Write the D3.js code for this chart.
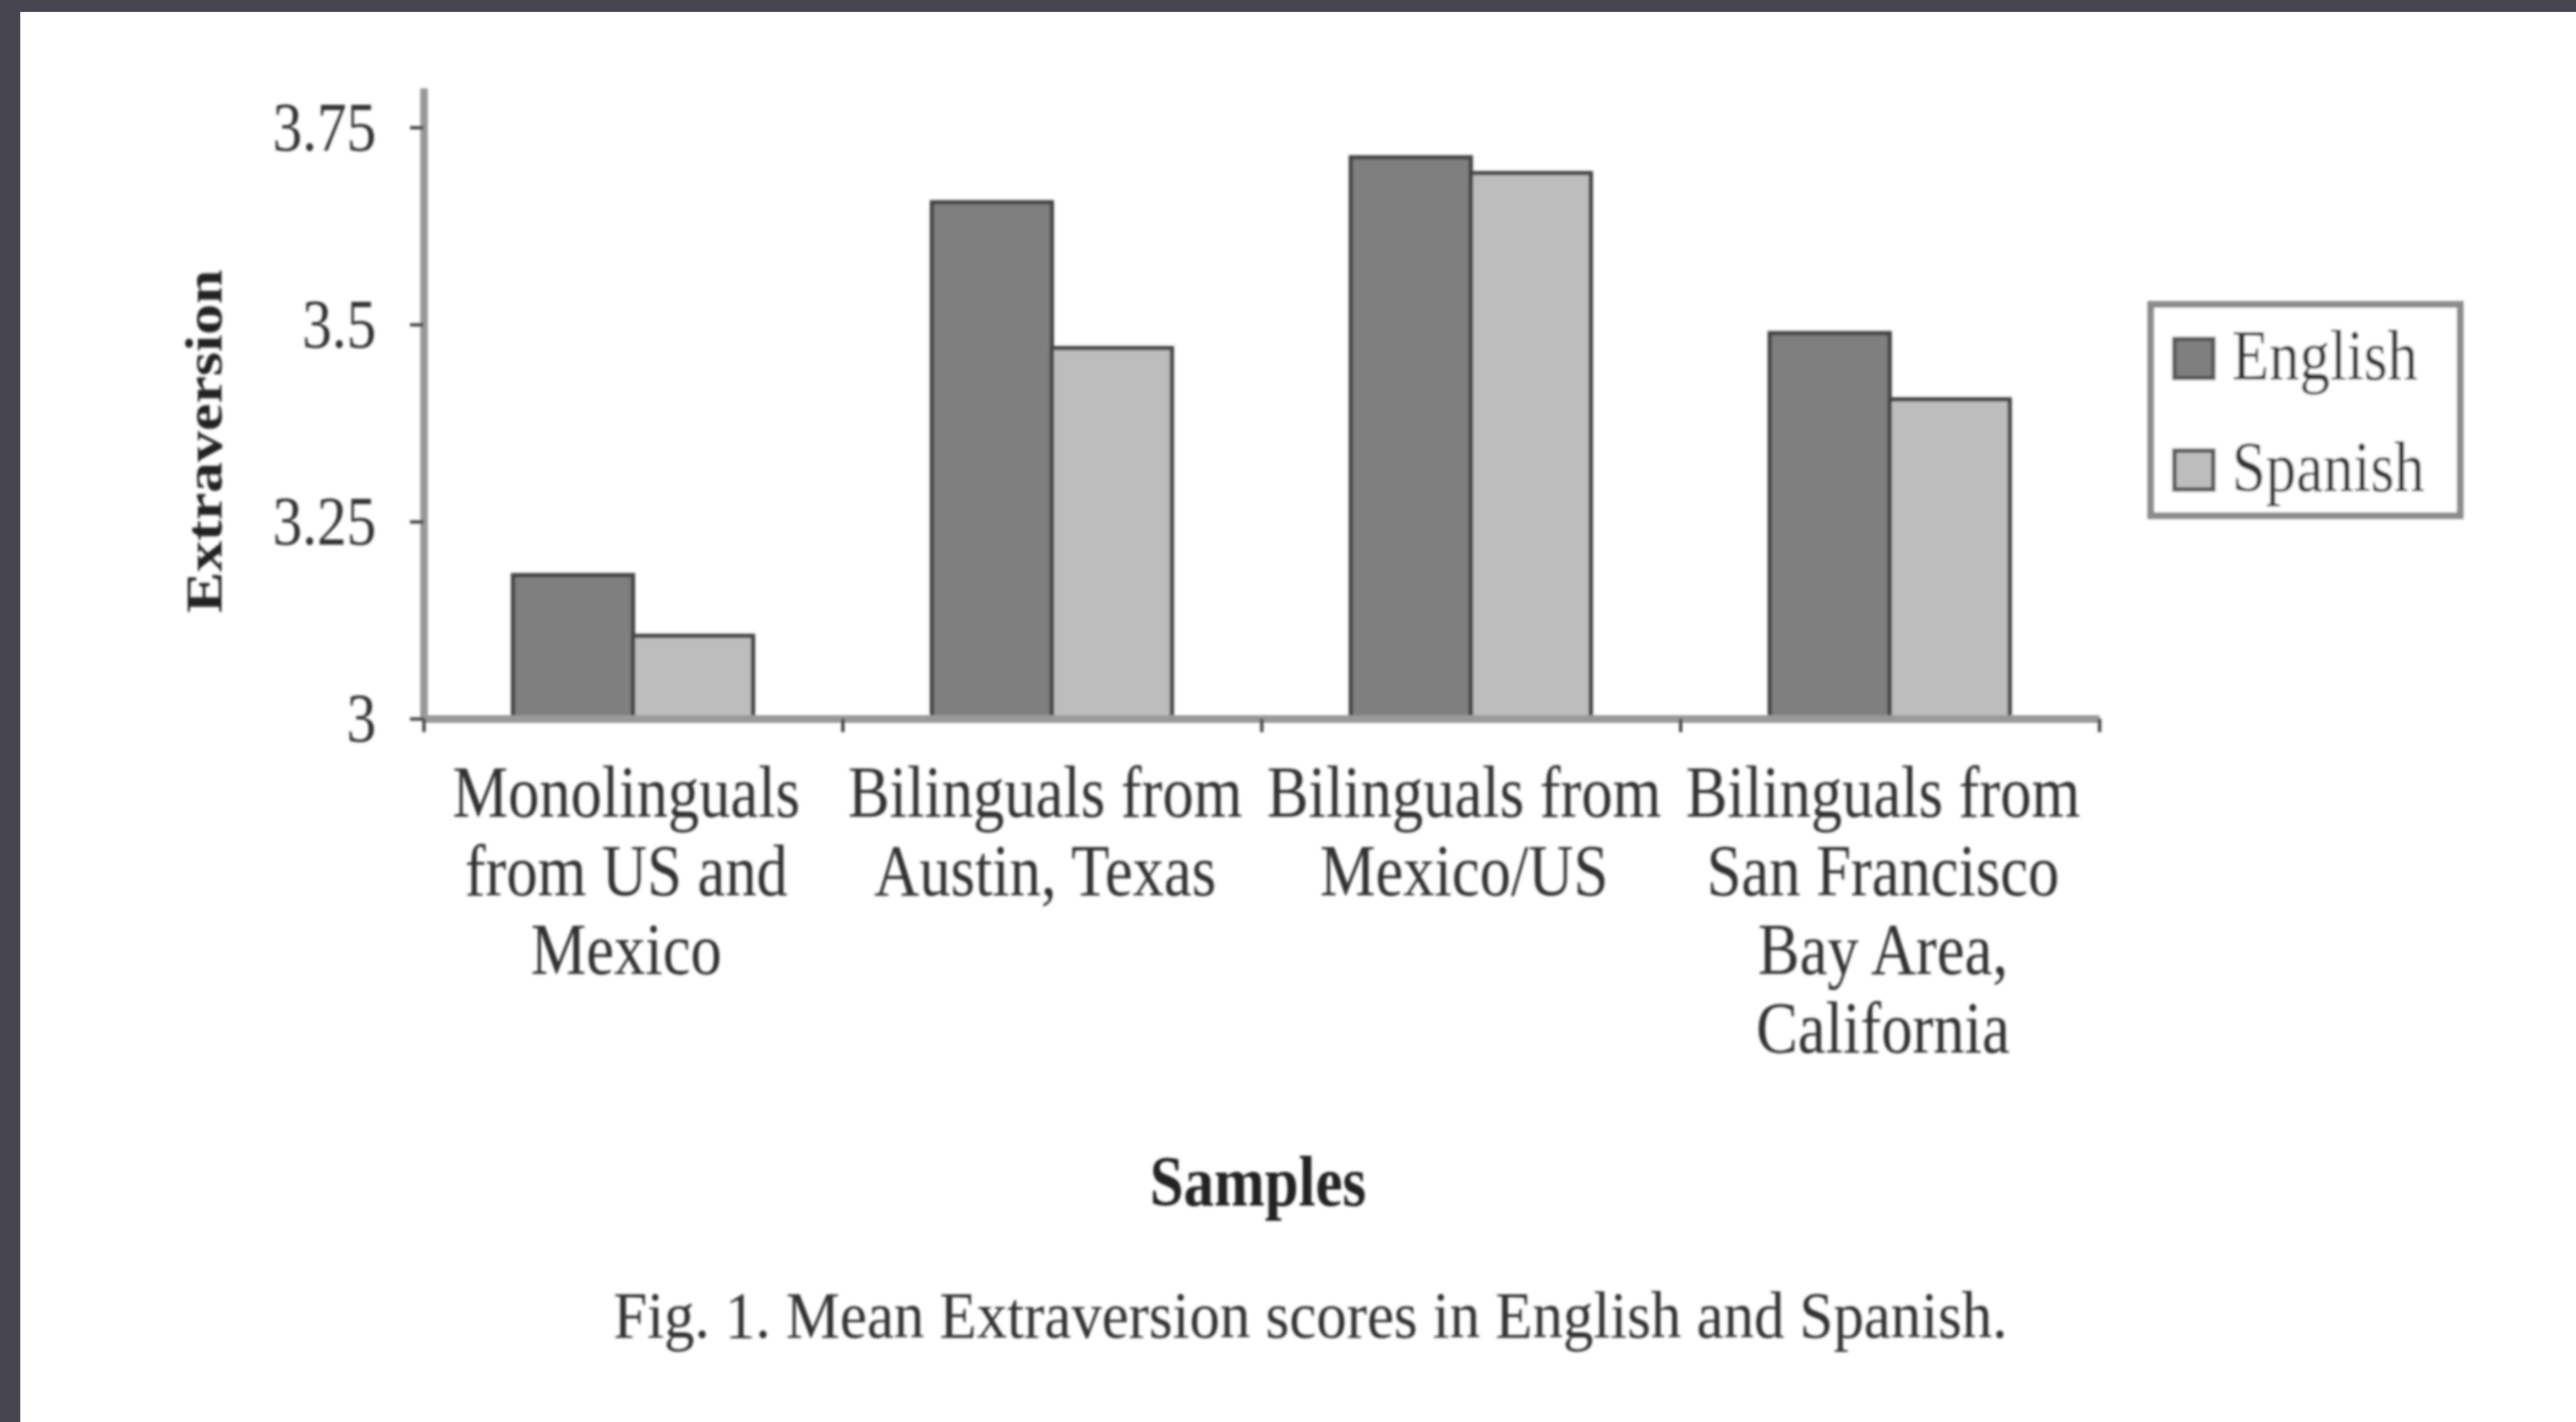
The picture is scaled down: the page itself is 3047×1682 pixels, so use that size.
<!DOCTYPE html>
<html>
<head>
<meta charset="utf-8">
<script src="https://cdn.jsdelivr.net/npm/d3@7"></script>
<style>
  html, body { margin: 0; padding: 0; background: #47454f; }
  svg { display: block; }
</style>
</head>
<body>
<svg id="chart" width="3047" height="1682"></svg>
<script>
// ---- data ----
const categories = ["Monolinguals from US and Mexico", "Bilinguals from Austin, Texas", "Bilinguals from Mexico/US", "Bilinguals from San Francisco Bay Area, California"];
const categoryLines = [["Monolinguals", "from US and", "Mexico"], ["Bilinguals from", "Austin, Texas"], ["Bilinguals from", "Mexico/US"], ["Bilinguals from", "San Francisco", "Bay Area,", "California"]];
const seriesNames = ["English", "Spanish"];
const englishValues = [3.182, 3.655, 3.712, 3.489];
const spanishValues = [3.105, 3.47, 3.692, 3.405];
const yTickValues = [3, 3.25, 3.5, 3.75];
const yTickLabels = ["3", "3.25", "3.5", "3.75"];
const yAxisTitle = "Extraversion";
const xAxisTitle = "Samples";
const caption = "Fig. 1. Mean Extraversion scores in English and Spanish.";

const seriesColors = { English: "#7f7f7f", Spanish: "#bdbdbd" };
const SY = 1.18; // vertical stretch of the scanned text
const FONT = "'Liberation Serif', 'Times New Roman', serif";

const svg = d3.select("#chart");
svg.append("rect").attr("x", 24).attr("y", 14).attr("width", 3047 - 24).attr("height", 1682 - 14).attr("fill", "#ffffff");

const defs = svg.append("defs");
defs.append("filter").attr("id", "soft").attr("x", "-5%").attr("y", "-5%").attr("width", "110%").attr("height", "110%")
  .append("feGaussianBlur").attr("stdDeviation", 1.6);

const g = svg.append("g").attr("filter", "url(#soft)");

const plotLeft = 501, plotRight = 2483, plotBottom = 850, plotTop = 104;

const x = d3.scaleBand().domain(categories).range([plotLeft, plotRight]).paddingInner(0).paddingOuter(0);
const x1 = d3.scaleBand().domain(seriesNames).range([0, x.bandwidth()]).paddingInner(0).paddingOuter(0.745);
const y = d3.scaleLinear().domain([3, 3.8]).range([plotBottom, plotTop]);
const xb = d3.scaleLinear().domain([0, categories.length]).range([plotLeft, plotRight]);

const rows = categories.map((c, i) => ({ cat: c, values: [
  { name: "English", value: englishValues[i] },
  { name: "Spanish", value: spanishValues[i] }
]}));

const groups = g.selectAll("g.cat").data(rows).join("g").attr("class", "cat")
  .attr("transform", d => `translate(${x(d.cat)},0)`);
groups.selectAll("rect").data(d => d.values).join("rect")
  .attr("x", d => x1(d.name))
  .attr("y", d => y(d.value))
  .attr("width", x1.bandwidth())
  .attr("height", d => y(3) - y(d.value))
  .attr("fill", d => seriesColors[d.name])
  .attr("stroke", "#444")
  .attr("stroke-width", 5);

// y axis
const yAxis = g.append("g").attr("transform", `translate(${plotLeft},0)`)
  .call(d3.axisLeft(y).tickValues(yTickValues).tickFormat((d, i) => yTickLabels[i]).tickSize(16).tickSizeOuter(0).tickPadding(40));
yAxis.select(".domain").attr("stroke", "#999").attr("stroke-width", 9);
yAxis.selectAll(".tick line").attr("stroke", "#444").attr("stroke-width", 4);
yAxis.selectAll(".tick text").attr("font-family", FONT).attr("font-size", 70).attr("fill", "#333")
  .attr("transform", `scale(1,${SY})`);

// x axis (category boundaries)
const xAxis = g.append("g").attr("transform", `translate(0,${plotBottom})`)
  .call(d3.axisBottom(xb).tickValues(d3.range(categories.length + 1)).tickFormat("").tickSize(16).tickSizeOuter(0));
xAxis.select(".domain").attr("stroke", "#999").attr("stroke-width", 9);
xAxis.selectAll(".tick line").attr("stroke", "#444").attr("stroke-width", 4);

// category labels
const lineBase = 966, lineStep = 93;
categoryLines.forEach((lines, i) => {
  const cx = x(categories[i]) + x.bandwidth() / 2 - 8;
  lines.forEach((t, j) => {
    g.append("text")
      .attr("transform", `translate(${cx},${lineBase + j * lineStep}) scale(1,${SY})`)
      .attr("text-anchor", "middle")
      .attr("font-family", FONT).attr("font-size", 74).attr("fill", "#333")
      .text(t);
  });
});

// y axis title
g.append("text")
  .attr("transform", `translate(262,522) rotate(-90) scale(${SY},1)`)
  .attr("text-anchor", "middle")
  .attr("font-family", FONT).attr("font-weight", "bold").attr("font-size", 62).attr("fill", "#222")
  .text(yAxisTitle);

// x axis title
g.append("text")
  .attr("transform", `translate(1488,1426) scale(1,${SY})`)
  .attr("text-anchor", "middle")
  .attr("font-family", FONT).attr("font-weight", "bold").attr("font-size", 72).attr("fill", "#222")
  .text(xAxisTitle);

// caption
g.append("text")
  .attr("transform", `translate(1550,1582) scale(1,${SY})`)
  .attr("text-anchor", "middle")
  .attr("font-family", FONT).attr("font-size", 66).attr("fill", "#333")
  .attr("textLength", 1649).attr("lengthAdjust", "spacingAndGlyphs")
  .text(caption);

// legend
const legend = g.append("g");
legend.append("rect").attr("x", 2544).attr("y", 360).attr("width", 366).attr("height", 250)
  .attr("fill", "#fff").attr("stroke", "#8c8c8c").attr("stroke-width", 8);
seriesNames.forEach((s, i) => {
  const yy = 401 + i * 132;
  legend.append("rect").attr("x", 2572).attr("y", yy).attr("width", 46).attr("height", 46)
    .attr("fill", seriesColors[s]).attr("stroke", "#555").attr("stroke-width", 5);
  legend.append("text")
    .attr("transform", `translate(2640,${yy + 48}) scale(1,${SY})`)
    .attr("font-family", FONT).attr("font-size", 72).attr("fill", "#333")
    .text(s);
});
</script>
</body>
</html>
